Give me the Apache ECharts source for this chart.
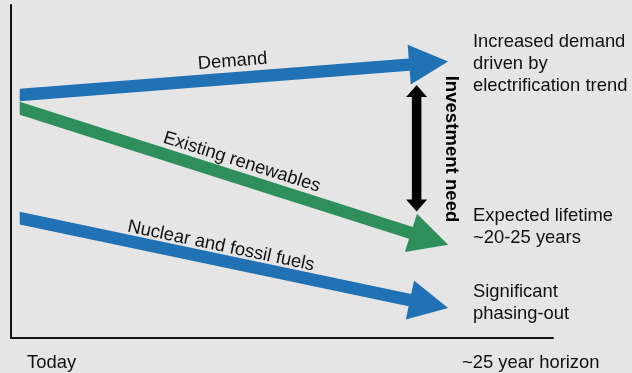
<!DOCTYPE html>
<html>
<head>
<meta charset="utf-8">
<script src="https://cdn.jsdelivr.net/npm/echarts@6/dist/echarts.min.js"></script>
<style>
html, body { margin: 0; padding: 0; background: #e5e5e5; }
#chart { width: 632px; height: 373px; }
</style>
</head>
<body>
<div id="chart"></div>
<script>
// data (x = years from today, y = relative capacity level)
var arrowNames = ['Demand', 'Existing renewables', 'Nuclear and fossil fuels'];
var startYear = [0.5, 0.5, 0.5];
var endYear = [25, 25, 25];
var startLevel = [73, 69, 36];
var endLevel = [83, 28, 9];
var investYear = 23.2;
var investRange = [38, 76];
var notes = [
    'Increased demand\ndriven by\nelectrification trend',
    'Expected lifetime\n~20-25 years',
    'Significant\nphasing-out'
];
var axisTexts = ['Today', '~25 year horizon'];

// styles
var arrowColors = ['#2171b5', '#2e8f5b', '#2171b5'];
var labelAt = [0.5, 0.507, 0.463];
var labelShift = [17, 16, 14];
var FONT = '18.4px "Liberation Sans", Arial, sans-serif';
var TXT = '#111';

var myChart = echarts.init(document.getElementById('chart'));

var arrowData = [];
for (var i = 0; i < arrowNames.length; i++) {
    arrowData.push([startYear[i], startLevel[i], endYear[i], endLevel[i]]);
}

function arrowPoints(p0, p1, shaft, headLen, headW, twoHeads) {
    var dx = p1[0] - p0[0], dy = p1[1] - p0[1];
    var len = Math.sqrt(dx * dx + dy * dy);
    var ux = dx / len, uy = dy / len;
    var nx = -uy, ny = ux;
    var s = shaft / 2, h = headW / 2;
    var b1 = [p1[0] - ux * headLen, p1[1] - uy * headLen];
    var pts = [];
    if (twoHeads) {
        var b0 = [p0[0] + ux * headLen, p0[1] + uy * headLen];
        pts.push(p0);
        pts.push([b0[0] + nx * h, b0[1] + ny * h]);
        pts.push([b0[0] + nx * s, b0[1] + ny * s]);
    } else {
        // left end cut vertically
        var t = -(nx * s) / ux;
        pts.push([p0[0], p0[1] + ny * s + uy * t]);
    }
    pts.push([b1[0] + nx * s, b1[1] + ny * s]);
    pts.push([b1[0] + nx * h, b1[1] + ny * h]);
    pts.push(p1);
    pts.push([b1[0] - nx * h, b1[1] - ny * h]);
    pts.push([b1[0] - nx * s, b1[1] - ny * s]);
    if (twoHeads) {
        pts.push([b0[0] - nx * s, b0[1] - ny * s]);
        pts.push([b0[0] - nx * h, b0[1] - ny * h]);
    } else {
        var t2 = (nx * s) / ux;
        pts.push([p0[0], p0[1] - ny * s + uy * t2]);
    }
    return pts;
}

option = {
    backgroundColor: '#e5e5e5',
    animation: false,
    grid: { left: 11, right: 79, top: 5, bottom: 35 },
    xAxis: {
        type: 'value', min: 0, max: 31,
        axisLine: { show: true, lineStyle: { color: '#111', width: 2 } },
        axisTick: { show: false },
        axisLabel: { show: false },
        splitLine: { show: false }
    },
    yAxis: {
        type: 'value', min: 0, max: 100,
        axisLine: { show: true, lineStyle: { color: '#111', width: 2 } },
        axisTick: { show: false },
        axisLabel: { show: false },
        splitLine: { show: false }
    },
    graphic: [
        { type: 'text', x: 473, y: 31, style: { text: notes[0], font: FONT, fill: TXT, lineHeight: 22 } },
        { type: 'text', x: 473, y: 205, style: { text: notes[1], font: FONT, fill: TXT, lineHeight: 22 } },
        { type: 'text', x: 473, y: 281, style: { text: notes[2], font: FONT, fill: TXT, lineHeight: 22 } },
        { type: 'text', x: 27, y: 363, style: { text: axisTexts[0], font: FONT, fill: TXT, verticalAlign: 'middle' } },
        { type: 'text', x: 462, y: 363, style: { text: axisTexts[1], font: FONT, fill: TXT, verticalAlign: 'middle' } },
        {
            type: 'text', x: 451, y: 149, rotation: -Math.PI / 2,
            style: {
                text: 'Investment need', font: 'bold 18.6px "Liberation Sans", Arial, sans-serif',
                fill: '#000', align: 'center', verticalAlign: 'middle'
            }
        }
    ],
    series: [
        {
            type: 'custom',
            data: arrowData,
            encode: { x: [0, 2], y: [1, 3] },
            renderItem: function (params, api) {
                var i = params.dataIndex;
                var p0 = api.coord([api.value(0), api.value(1)]);
                var p1 = api.coord([api.value(2), api.value(3)]);
                var dx = p1[0] - p0[0], dy = p1[1] - p0[1];
                var len = Math.sqrt(dx * dx + dy * dy);
                var ux = dx / len, uy = dy / len;
                var lx = p0[0] + dx * labelAt[i] + uy * labelShift[i];
                var ly = p0[1] + dy * labelAt[i] - ux * labelShift[i];
                return {
                    type: 'group',
                    children: [
                        {
                            type: 'polygon',
                            shape: { points: arrowPoints(p0, p1, 12.5, 39, 40, false) },
                            style: { fill: arrowColors[i] }
                        },
                        {
                            type: 'text',
                            x: lx, y: ly,
                            rotation: -Math.atan2(dy, dx),
                            style: {
                                text: arrowNames[i], font: FONT, fill: TXT,
                                align: 'center', verticalAlign: 'middle'
                            }
                        }
                    ]
                };
            }
        },
        {
            type: 'custom',
            data: [[investYear, investRange[1], investYear, investRange[0]]],
            encode: { x: [0, 2], y: [1, 3] },
            renderItem: function (params, api) {
                var p0 = api.coord([api.value(0), api.value(1)]);
                var p1 = api.coord([api.value(2), api.value(3)]);
                return {
                    type: 'polygon',
                    shape: { points: arrowPoints(p0, p1, 9.5, 12, 21, true) },
                    style: { fill: '#000' }
                };
            }
        }
    ]
};

myChart.setOption(option);
window.addEventListener('resize', function () {
    myChart.resize();
});
</script>
</body>
</html>
